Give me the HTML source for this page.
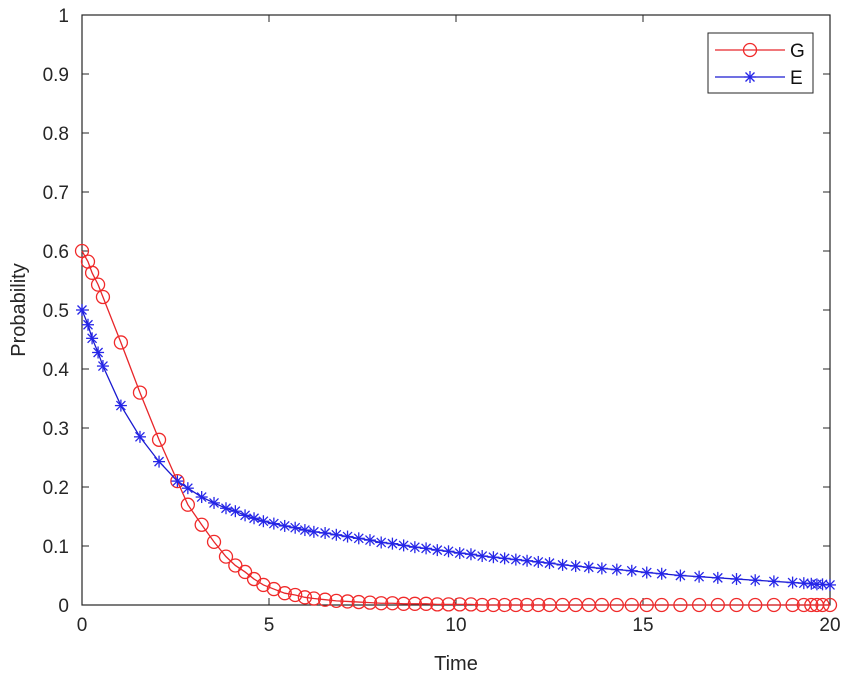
<!DOCTYPE html>
<html><head><meta charset="utf-8"><style>
body{margin:0;background:#fff;}
svg{display:block;font-family:"Liberation Sans",Arial,sans-serif;}
</style></head><body>
<svg id="chart" width="851" height="680">
<g id="axes"></g><g id="series"></g><g id="legend"></g>
</svg>
<script>
const T = [0,0.16,0.27,0.43,0.56,1.04,1.55,2.06,2.55,2.83,3.2,3.53,3.85,4.1,4.36,4.6,4.85,5.13,5.42,5.7,5.96,6.2,6.5,6.8,7.1,7.4,7.7,8.0,8.3,8.6,8.9,9.2,9.5,9.8,10.1,10.4,10.7,11.0,11.3,11.6,11.9,12.2,12.5,12.85,13.2,13.55,13.9,14.3,14.7,15.1,15.5,16.0,16.5,17.0,17.5,18.0,18.5,19.0,19.3,19.5,19.65,19.8,20.0];
const G = [0.6,0.582,0.563,0.543,0.522,0.445,0.36,0.28,0.21,0.17,0.136,0.107,0.082,0.067,0.056,0.044,0.034,0.027,0.02,0.017,0.013,0.011,0.009,0.007,0.006,0.005,0.004,0.003,0.003,0.002,0.002,0.002,0.001,0.001,0.001,0.001,0,0,0,0,0,0,0,0,0,0,0,0,0,0,0,0,0,0,0,0,0,0,0,0,0,0,0];
const E = [0.5,0.475,0.452,0.428,0.405,0.338,0.285,0.243,0.21,0.198,0.183,0.173,0.164,0.159,0.152,0.147,0.142,0.138,0.134,0.131,0.127,0.124,0.122,0.119,0.116,0.113,0.110,0.106,0.104,0.101,0.098,0.096,0.093,0.091,0.088,0.086,0.083,0.081,0.079,0.077,0.075,0.073,0.071,0.068,0.066,0.064,0.062,0.060,0.058,0.055,0.053,0.050,0.048,0.046,0.044,0.042,0.040,0.038,0.037,0.036,0.035,0.035,0.034];
const xTicks = [0,5,10,15,20];
const yTicks = [0,0.1,0.2,0.3,0.4,0.5,0.6,0.7,0.8,0.9,1];
const yTickLabels = ["0","0.1","0.2","0.3","0.4","0.5","0.6","0.7","0.8","0.9","1"];

const L=82,R=830,TOP=15,B=605;
const xs=v=>L+(v-0)/20*(R-L);
const ys=v=>B-(v-0)/1*(B-TOP);
const NS="http://www.w3.org/2000/svg";
function mk(tag,attrs,parent){const e=document.createElementNS(NS,tag);for(const k in attrs)e.setAttribute(k,attrs[k]);parent.appendChild(e);return e;}
const axes=document.getElementById('axes'),ser=document.getElementById('series'),leg=document.getElementById('legend');
const ac="#262626";
let box=mk('rect',{x:L,y:TOP,width:R-L,height:B-TOP,fill:'#fff',stroke:ac,'stroke-width':1.2},axes);


xTicks.forEach(v=>{
  const x=xs(v);
  mk('line',{x1:x,y1:B,x2:x,y2:B-7,stroke:ac},axes);
  mk('line',{x1:x,y1:TOP,x2:x,y2:TOP+7,stroke:ac},axes);
  const t=mk('text',{x:x,y:B+26,'font-size':19,'text-anchor':'middle',fill:ac},axes);
  t.textContent=String(v);
  
  
});
yTicks.forEach((v,i)=>{
  const y=ys(v);
  mk('line',{x1:L,y1:y,x2:L+7,y2:y,stroke:ac},axes);
  mk('line',{x1:R,y1:y,x2:R-7,y2:y,stroke:ac},axes);
  const t=mk('text',{x:L-13,y:y+7,'font-size':19,'text-anchor':'end',fill:ac},axes);
  t.textContent=yTickLabels[i];
  
  
});
let xt=mk('text',{x:(L+R)/2,y:670,'font-size':20,'text-anchor':'middle',fill:ac},axes);
xt.textContent='Time';


let yt=mk('text',{x:0,y:0,'font-size':20,'text-anchor':'middle',fill:ac,transform:'translate(25,310) rotate(-90)'},axes);
yt.textContent='Probability';



function star(g,x,y,c){
  const r=6;
  mk('line',{x1:x-r,y1:y,x2:x+r,y2:y,stroke:c,'stroke-width':1.3},g);
  mk('line',{x1:x,y1:y-r,x2:x,y2:y+r,stroke:c,'stroke-width':1.3},g);
  mk('line',{x1:x-4.5,y1:y-4.5,x2:x+4.5,y2:y+4.5,stroke:c,'stroke-width':1.3},g);
  mk('line',{x1:x-4.5,y1:y+4.5,x2:x+4.5,y2:y-4.5,stroke:c,'stroke-width':1.3},g);
}
const gG=mk('g',{},ser);


mk('polyline',{points:T.map((t,i)=>xs(t)+','+ys(G[i])).join(' '),fill:'none',stroke:'#e8262a','stroke-width':1.3},gG);
T.forEach((t,i)=>{
  const c=mk('circle',{cx:xs(t),cy:ys(G[i]),r:6.5,fill:'none',stroke:'#f02a2a','stroke-width':1.3},gG);
  
  
});
const gE=mk('g',{},ser);


mk('polyline',{points:T.map((t,i)=>xs(t)+','+ys(E[i])).join(' '),fill:'none',stroke:'#1a1ad0','stroke-width':1.3},gE);
T.forEach((t,i)=>{star(gE,xs(t),ys(E[i]),'#2626e8');});

const lb=mk('rect',{x:708,y:33,width:105,height:60,fill:'#fff',stroke:ac,'stroke-width':1},leg);


mk('line',{x1:715,y1:50,x2:785,y2:50,stroke:'#e8262a','stroke-width':1.3},leg);
mk('circle',{cx:750,cy:50,r:6.5,fill:'none',stroke:'#f02a2a','stroke-width':1.3},leg);
let lg=mk('text',{x:790,y:57,'font-size':19,fill:'#111'},leg);
lg.textContent='G';


mk('line',{x1:715,y1:77,x2:785,y2:77,stroke:'#1a1ad0','stroke-width':1.3},leg);
star(leg,750,77,'#2626e8');
let le=mk('text',{x:790,y:84,'font-size':19,fill:'#111'},leg);
le.textContent='E';


</script>
</body></html>
